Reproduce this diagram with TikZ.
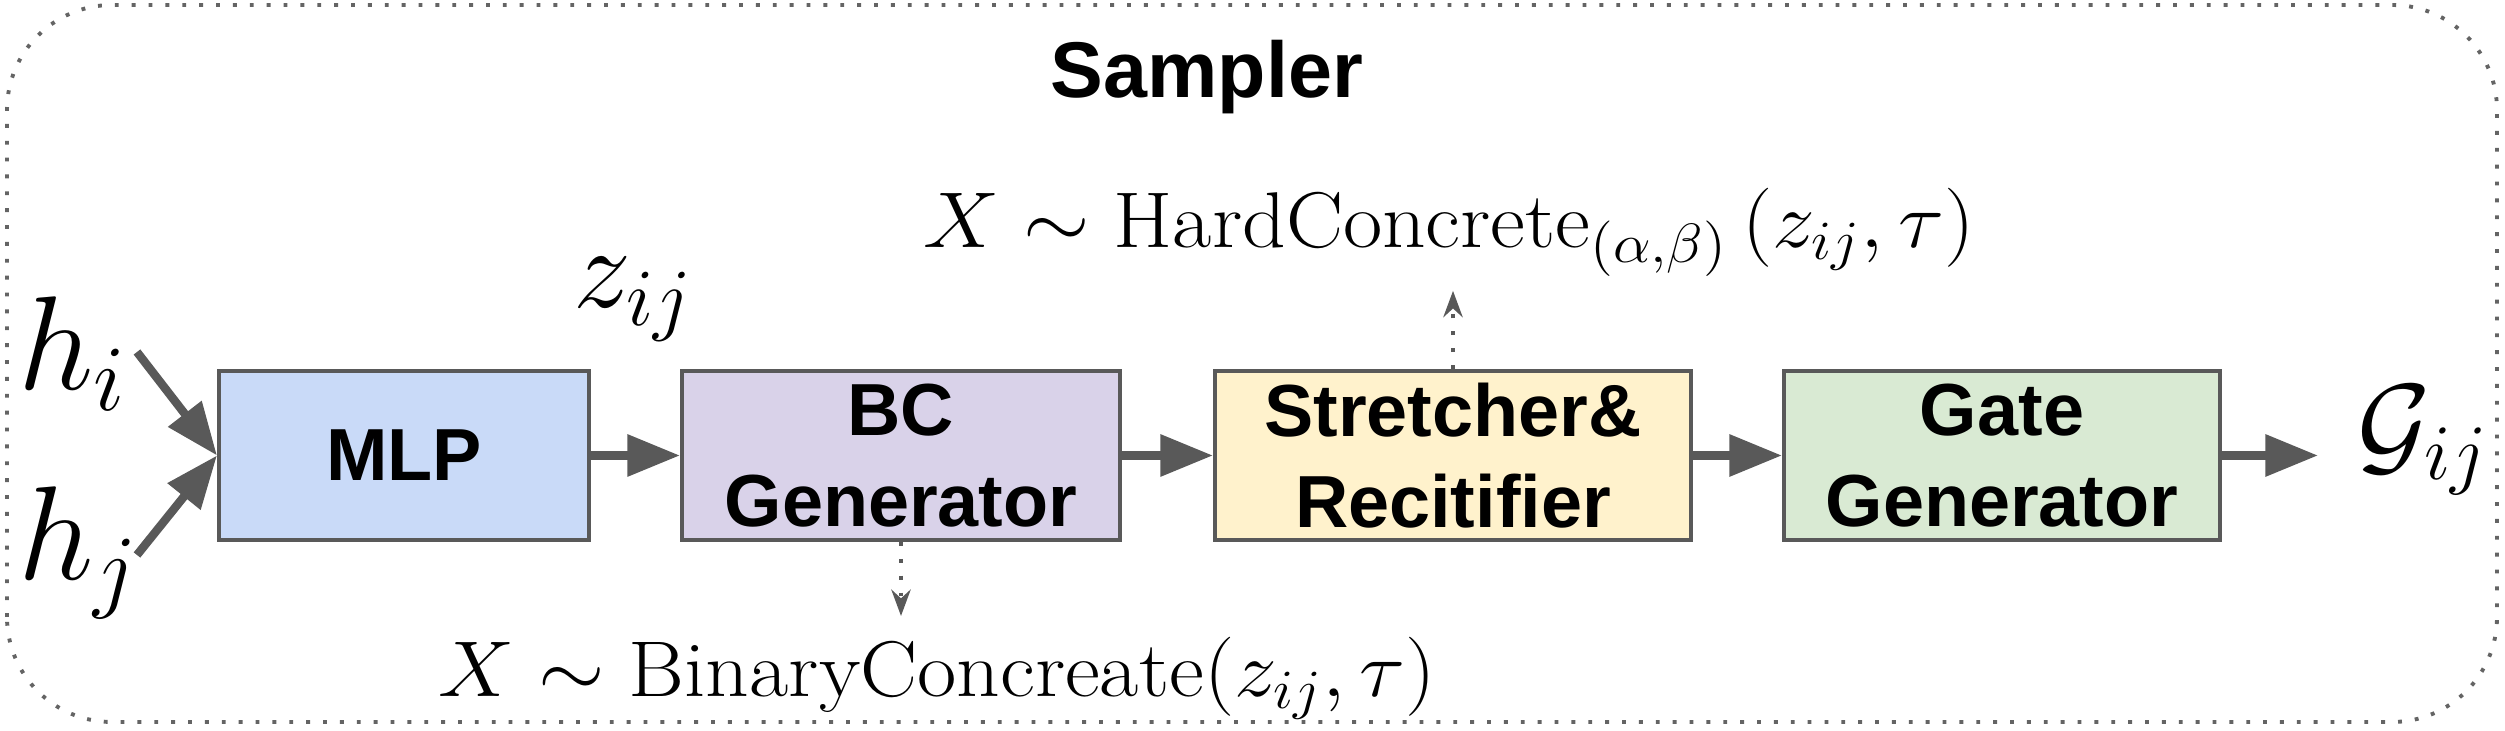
\documentclass[tikz,border=0pt]{standalone}
\usepackage{fix-cm}
\usepackage{amsmath,amssymb}
\usepackage{graphicx}
\usepackage{fontspec}
\newfontfamily\blockfont{Liberation Sans}
\usepackage{tikz}
\usetikzlibrary{arrows.meta,positioning}
\usepackage{xcolor}
\definecolor{cMLP}{RGB}{201,218,248}
\definecolor{cBC}{RGB}{217,210,233}
\definecolor{cSR}{RGB}{255,242,204}
\definecolor{cGate}{RGB}{217,234,211}
\definecolor{cLine}{RGB}{89,89,89}
\definecolor{cFrame}{RGB}{100,100,100}

\tikzset{
  blockbox/.style={draw=cLine, line width=1.15pt, align=center, inner sep=0pt,
    minimum height=1.69cm, font=\blockfont\bfseries\fontsize{21}{26}\selectfont},
  flow/.style={draw=cLine, line width=2.4pt, -{Triangle[length=15pt,width=11.5pt]}},
  probe/.style={draw=cLine, line width=1.1pt, dash pattern=on 1.1pt off 3.7pt,
    -{Stealth[length=7.5pt,width=5.5pt,inset=2.5pt]}},
}

\begin{document}
\begin{tikzpicture}
  \useasboundingbox (0,0) rectangle (25.05,7.31);
  % sampler frame
  \draw[cFrame, line width=1.1pt, dash pattern=on 1.1pt off 3.7pt, rounded corners=1.05cm]
    (0.07,0.09) rectangle (24.97,7.26);
  \node[font=\blockfont\bfseries\fontsize{22.5}{27}\selectfont, anchor=base] (title) at (12.07,6.33) {Sampler};
  % inputs
  \node[font=\fontsize{38}{42}\selectfont, anchor=base west, inner sep=0pt] (hi) at (0.18,3.41) {$h_i$};
  \node[font=\fontsize{38}{42}\selectfont, anchor=base west, inner sep=0pt] (hj) at (0.18,1.51) {$h_j$};
  \coordinate (hiout) at (1.37,3.79);
  \coordinate (hjout) at (1.37,1.76);
  % blocks
  \node[blockbox, fill=cMLP, minimum width=3.70cm] (mlp) at (4.04,2.755) {MLP};
  \node[blockbox, fill=cBC, minimum width=4.38cm] (bcg) at (9.01,2.755) {BC\\Generator};
  \node[blockbox, fill=cSR, minimum width=4.76cm] (sr) at (14.53,2.755) {Stretcher\&\\Recitifier};
  \node[blockbox, fill=cGate, minimum width=4.36cm] (gg) at (20.02,2.755) {Gate\\Generator};
  \node[font=\fontsize{33}{38}\selectfont, anchor=base west, inner sep=0pt] (zij) at (5.73,4.23) {$z_{ij}$};
  \node[font=\fontsize{32}{36}\selectfont, anchor=base west, inner sep=11pt] (gij) at (23.18,2.68) {$\mathcal{G}_{ij}$};
  % distributions
  \node[font=\fontsize{22.5}{27}\selectfont, anchor=base west, inner sep=4pt] (hc) at (9.09,4.83)
    {\scalebox{1.08}[1]{$X \sim \mathrm{HardConcrete}_{(\alpha,\beta)}\,(z_{ij},\tau)$}};
  \node[font=\fontsize{22.5}{27}\selectfont, anchor=base west, inner sep=6pt] (bin) at (4.17,0.34)
    {\scalebox{1.08}[1]{$X \sim \mathrm{BinaryConcreate}(z_{ij},\tau)$}};
  % connectors
  \draw[flow] (hiout) -- (mlp.west);
  \draw[flow] (hjout) -- (mlp.west);
  \draw[flow] (mlp) -- (bcg);
  \draw[flow] (bcg) -- (sr);
  \draw[flow] (sr) -- (gg);
  \draw[flow] (gg) -- (gg -| gij.west);
  \draw[probe] (sr.north) -- (sr.north |- hc.south);
  \draw[probe] (bcg.south) -- (bcg.south |- bin.north);
\end{tikzpicture}
\end{document}
